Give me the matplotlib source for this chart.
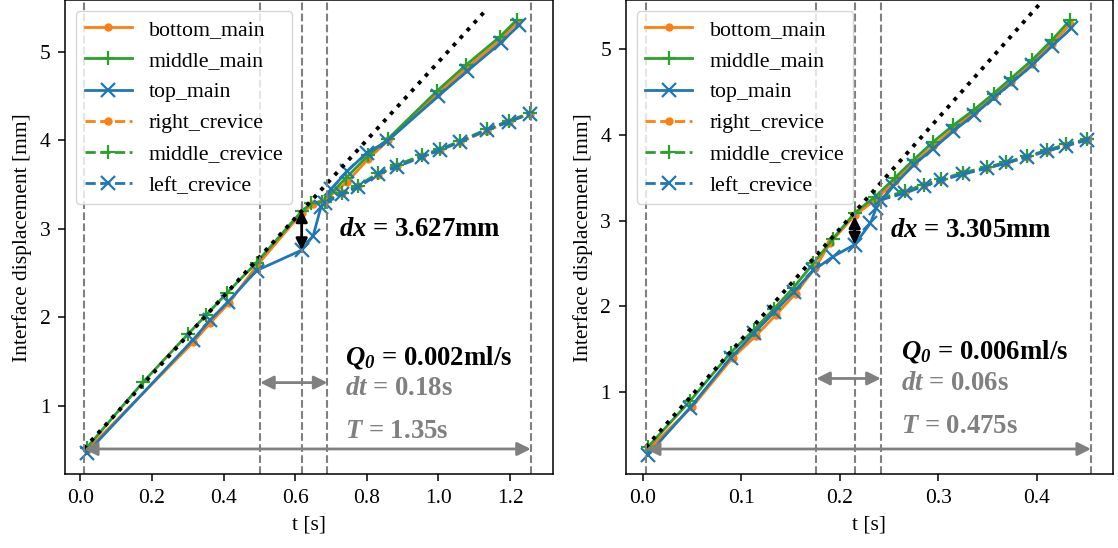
import matplotlib
matplotlib.use("Agg")
import matplotlib.pyplot as plt

plt.rcParams['font.family'] = ['Liberation Serif', 'DejaVu Serif']
plt.rcParams['mathtext.fontset'] = 'custom'
plt.rcParams['mathtext.rm'] = 'Liberation Serif'
plt.rcParams['mathtext.it'] = 'Liberation Serif:italic'
plt.rcParams['mathtext.bf'] = 'Liberation Serif:bold'
try:
    plt.rcParams['mathtext.bfit'] = 'Liberation Serif:italic:bold'
    BFIT = r'\mathbfit'
except KeyError:
    BFIT = r'\mathbf'
plt.rcParams['axes.linewidth'] = 1.1
plt.rcParams['xtick.major.size'] = 5
plt.rcParams['ytick.major.size'] = 5
plt.rcParams['xtick.major.width'] = 1.1
plt.rcParams['ytick.major.width'] = 1.1
plt.rcParams['xtick.major.pad'] = 5.5
plt.rcParams['ytick.major.pad'] = 5.5
plt.rcParams['axes.labelpad'] = 5.6

# ---------------- data : left panel (Q0 = 0.002 ml/s) ----------------
L_bottom_t = [0.018, 0.315, 0.363, 0.414, 0.492, 0.618, 0.650, 0.690, 0.745, 0.804, 0.860, 0.997, 1.077, 1.172, 1.219]
L_bottom_x = [0.50, 1.72, 1.94, 2.16, 2.58, 3.18, 3.28, 3.35, 3.53, 3.79, 4.00, 4.52, 4.81, 5.13, 5.33]
L_middle_t = [0.018, 0.175, 0.300, 0.352, 0.410, 0.492, 0.618, 0.645, 0.676, 0.743, 0.804, 0.860, 0.997, 1.077, 1.172, 1.219]
L_middle_x = [0.53, 1.27, 1.81, 2.03, 2.28, 2.62, 3.20, 3.29, 3.30, 3.58, 3.83, 4.02, 4.56, 4.85, 5.17, 5.36]
L_top_t = [0.018, 0.315, 0.362, 0.413, 0.492, 0.618, 0.650, 0.672, 0.700, 0.745, 0.800, 0.857, 1.000, 1.080, 1.174, 1.225]
L_top_x = [0.47, 1.75, 1.97, 2.18, 2.53, 2.76, 2.92, 3.25, 3.45, 3.65, 3.86, 3.99, 4.50, 4.78, 5.10, 5.30]
L_crev_t = [0.683, 0.730, 0.776, 0.832, 0.883, 0.953, 1.004, 1.060, 1.137, 1.197, 1.256]
L_right_crev = [3.31, 3.40, 3.48, 3.61, 3.71, 3.82, 3.89, 3.98, 4.11, 4.21, 4.30]
L_middle_crev = [3.30, 3.41, 3.49, 3.63, 3.72, 3.83, 3.90, 3.99, 4.13, 4.22, 4.31]
L_left_crev = [3.29, 3.39, 3.47, 3.62, 3.70, 3.81, 3.89, 3.98, 4.12, 4.21, 4.30]
L_fit_t = [0.010, 1.135]
L_fit_x = [0.52, 5.48]
L_vlines = [0.010, 0.502, 0.618, 0.690, 1.258]
L_dx_span = [3.21, 2.76]
L_labels = ['$%s{dx}$ = 3.627mm' % BFIT, '$%s{Q}_{%s{0}}$ = 0.002ml/s' % (BFIT, BFIT),
            '$%s{dt}$ = 0.18s' % BFIT, '$%s{T}$ = 1.35s' % BFIT]

# ---------------- data : right panel (Q0 = 0.006 ml/s) ----------------
R_bottom_t = [0.005, 0.050, 0.091, 0.115, 0.135, 0.155, 0.175, 0.190, 0.215, 0.236, 0.256, 0.275, 0.295, 0.315, 0.336, 0.356, 0.374, 0.395, 0.415, 0.434]
R_bottom_x = [0.33, 0.83, 1.40, 1.66, 1.90, 2.15, 2.45, 2.74, 3.06, 3.24, 3.46, 3.67, 3.87, 4.07, 4.26, 4.45, 4.62, 4.83, 5.06, 5.29]
R_middle_t = [0.005, 0.048, 0.089, 0.113, 0.133, 0.153, 0.173, 0.193, 0.215, 0.236, 0.256, 0.275, 0.295, 0.315, 0.336, 0.356, 0.374, 0.395, 0.415, 0.434]
R_middle_x = [0.36, 0.90, 1.46, 1.73, 1.97, 2.22, 2.50, 2.79, 3.09, 3.28, 3.50, 3.71, 3.92, 4.11, 4.29, 4.48, 4.66, 4.87, 5.10, 5.34]
R_top_t = [0.005, 0.048, 0.089, 0.113, 0.133, 0.153, 0.173, 0.193, 0.215, 0.231, 0.237, 0.254, 0.275, 0.295, 0.315, 0.336, 0.356, 0.374, 0.395, 0.415, 0.435]
R_top_x = [0.27, 0.82, 1.40, 1.69, 1.93, 2.17, 2.42, 2.58, 2.72, 2.97, 3.15, 3.40, 3.65, 3.84, 4.04, 4.23, 4.43, 4.60, 4.81, 5.03, 5.24]
R_crev_t = [0.241, 0.266, 0.285, 0.303, 0.325, 0.349, 0.369, 0.390, 0.410, 0.430, 0.451]
R_right_crev = [3.25, 3.33, 3.41, 3.47, 3.55, 3.61, 3.67, 3.74, 3.81, 3.88, 3.94]
R_middle_crev = [3.26, 3.34, 3.42, 3.48, 3.56, 3.62, 3.68, 3.75, 3.82, 3.89, 3.95]
R_left_crev = [3.24, 3.32, 3.40, 3.47, 3.54, 3.61, 3.67, 3.74, 3.81, 3.87, 3.94]
R_fit_t = [0.003, 0.4025]
R_fit_x = [0.36, 5.52]
R_vlines = [0.003, 0.176, 0.215, 0.2415, 0.455]
R_dx_span = [3.05, 2.72]
R_labels = ['$%s{dx}$ = 3.305mm' % BFIT, '$%s{Q}_{%s{0}}$ = 0.006ml/s' % (BFIT, BFIT),
            '$%s{dt}$ = 0.06s' % BFIT, '$%s{T}$ = 0.475s' % BFIT]

series_names = ['bottom_main', 'middle_main', 'top_main', 'right_crevice', 'middle_crevice', 'left_crevice']

C_OR, C_GR, C_BL = '#ff7f0e', '#2ca02c', '#1f77b4'
GREY = '#808080'

fig = plt.figure(figsize=(11.18, 5.48), dpi=100)
W, H = 1118.0, 548.0
ax1 = fig.add_axes([65 / W, (H - 474.3) / H, 488 / W, 474.3 / H])
ax2 = fig.add_axes([625.7 / W, (H - 474.3) / H, 487 / W, 474.3 / H])


def draw(ax, bt, bx, mt, mx, tt, tx, ct, rc, mc, lc, ft, fx, vl, dxs, labels,
         xlim, ylim, xticks, yticks, txt):
    lw = 2
    ax.plot(bt, bx, '-', color=C_OR, marker='o', ms=5, lw=lw, label=series_names[0])
    ax.plot(mt, mx, '-', color=C_GR, marker='+', ms=10, mew=1.6, lw=lw, label=series_names[1])
    ax.plot(tt, tx, '-', color=C_BL, marker='x', ms=10, mew=1.6, lw=lw, label=series_names[2])
    ax.plot(ct, rc, '--', color=C_OR, marker='o', ms=5, lw=lw, label=series_names[3])
    ax.plot(ct, mc, '--', color=C_GR, marker='+', ms=10, mew=1.6, lw=lw, label=series_names[4])
    ax.plot(ct, lc, '--', color=C_BL, marker='x', ms=10, mew=1.6, lw=lw, label=series_names[5])
    ax.plot(ft, fx, ':', color='black', lw=2.8)
    for v in vl:
        ax.axvline(v, color=GREY, ls='--', lw=1.5)
    # dx arrow
    ax.annotate('', xy=(vl[2], dxs[1]), xytext=(vl[2], dxs[0]),
                arrowprops=dict(arrowstyle='<|-|>', color='black', lw=2,
                                mutation_scale=17, shrinkA=0, shrinkB=0))
    # dt arrow
    ax.annotate('', xy=(vl[3], txt['dty']), xytext=(vl[1], txt['dty']),
                arrowprops=dict(arrowstyle='<|-|>', color=GREY, lw=2,
                                mutation_scale=20, shrinkA=0, shrinkB=0))
    # T arrow
    ax.annotate('', xy=(vl[4], txt['Ty']), xytext=(vl[0], txt['Ty']),
                arrowprops=dict(arrowstyle='<|-|>', color=GREY, lw=2,
                                mutation_scale=20, shrinkA=0, shrinkB=0))
    fs = 19.3
    ax.text(txt['dxx'], txt['dxy'], labels[0], fontsize=fs, fontweight='bold',
            color='black', va='center', ha='left')
    ax.text(txt['qx'], txt['qy'], labels[1], fontsize=fs, fontweight='bold',
            color='black', va='center', ha='left')
    ax.text(txt['qx'], txt['dtty'], labels[2], fontsize=fs, fontweight='bold',
            color=GREY, va='center', ha='left')
    ax.text(txt['qx'], txt['tty'], labels[3], fontsize=fs, fontweight='bold',
            color=GREY, va='center', ha='left')
    ax.set_xlim(*xlim)
    ax.set_ylim(*ylim)
    ax.set_xticks(xticks)
    ax.set_yticks(yticks)
    ax.tick_params(labelsize=15.5)
    ax.set_xlabel('t [s]', fontsize=15.5)
    ax.set_ylabel('Interface displacement [mm]', fontsize=15.5)
    ax.legend(loc='upper left', fontsize=15.7, handlelength=2.15)


draw(ax1, L_bottom_t, L_bottom_x, L_middle_t, L_middle_x, L_top_t, L_top_x,
     L_crev_t, L_right_crev, L_middle_crev, L_left_crev, L_fit_t, L_fit_x,
     L_vlines, L_dx_span, L_labels,
     (-0.043, 1.320), (0.230, 5.584), [0.0, 0.2, 0.4, 0.6, 0.8, 1.0, 1.2], [1, 2, 3, 4, 5],
     dict(dxx=0.723, dxy=2.99, qx=0.738, qy=1.55, dtty=1.20, tty=0.71, dty=1.265, Ty=0.516))

draw(ax2, R_bottom_t, R_bottom_x, R_middle_t, R_middle_x, R_top_t, R_top_x,
     R_crev_t, R_right_crev, R_middle_crev, R_left_crev, R_fit_t, R_fit_x,
     R_vlines, R_dx_span, R_labels,
     (-0.0175, 0.477), (0.043, 5.571), [0.0, 0.1, 0.2, 0.3, 0.4], [1, 2, 3, 4, 5],
     dict(dxx=0.251, dxy=2.88, qx=0.262, qy=1.47, dtty=1.10, tty=0.60, dty=1.16, Ty=0.338))

fig.savefig('out.png', dpi=100)
